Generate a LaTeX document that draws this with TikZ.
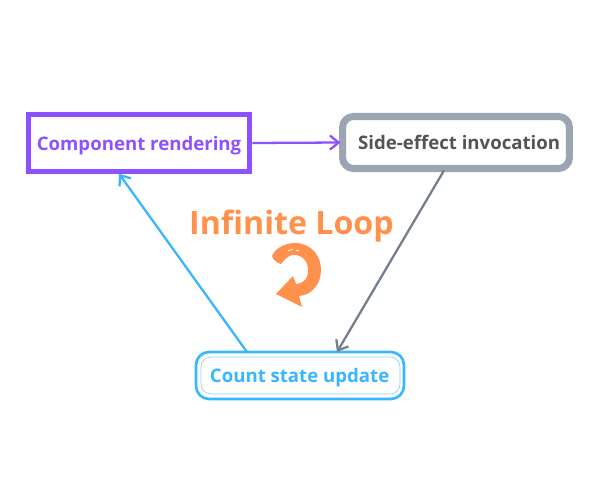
\documentclass[tikz,border=0pt]{standalone}
\usepackage{fontspec}
\setmainfont{Open Sans}
\usepackage{color}
\definecolor{purpleline}{HTML}{8C52FF}
\definecolor{greyline}{HTML}{9BA6B2}
\definecolor{greyarrow}{HTML}{737F8C}
\definecolor{greytext}{HTML}{545454}
\definecolor{blueline}{HTML}{38B6FF}
\definecolor{orangeloop}{HTML}{FF914D}
\usetikzlibrary{calc,arrows.meta}
\tikzset{
	box/.style={
		rectangle, outer sep=0pt, inner sep=0pt,
		text height=10.6pt, text depth=2.5pt,
		font=\fontsize{10.6}{13}\selectfont\bfseries
	},
}

\begin{document}
\begin{tikzpicture}[
		x=0.02cm, y=-0.02cm,
		>={Straight Barb[length=5pt,width=8pt]}, line width=1.3pt, ->
		]
		\useasboundingbox (0,0) rectangle (600,480);
		
		\node[box, draw=purpleline, line width=2.8pt, text=purpleline,
			minimum width=4.42cm, minimum height=1.15cm] (A) at (139,143) {Component rendering};
		\node[box, draw=greyline, line width=4pt, text=greytext, rounded corners=0.22cm,
			minimum width=4.54cm, minimum height=1.04cm] (B) at (456,142.5) {\hspace*{3.6pt}Side-effect invocation};
		\node[box, draw=blueline!60, line width=0.4pt, text=blueline, rounded corners=0.2cm,
			minimum width=3.98cm, minimum height=0.74cm] (C) at (300.5,375.5) {\hspace*{-1pt}Count state update};
		\node[box, draw=blueline, line width=1.5pt, rounded corners=0.26cm,
			minimum width=4.16cm, minimum height=0.94cm] (D) at (300,375.5) {};
		\node[font=\fontsize{18.3}{22}\selectfont\bfseries, text=orangeloop] (L) at (291.5,226) {Infinite Loop};
		
		\draw[purpleline] ($(A.east)+(3,0)$) -- ($(B.west)+(-2,0)$);
		\draw[greyarrow] ($(B.south)+(-12,2)$) -- ($(D.north)+(37,0)$);
		\draw[blueline] ($(D.north)+(-53,0)$) -- ($(A.south)+(-20,2)$);
		
		% hand drawn loop arrow
		\fill[orangeloop, draw=none] (272,256) .. controls (276,247) and (286,243) .. (296,243)
			.. controls (312,244) and (321,256) .. (321,270)
			.. controls (321,284) and (312,295) .. (299,296)
			-- (302,307) -- (276,294) -- (293,276) -- (296,284)
			.. controls (305,283) and (309,277) .. (308,268)
			.. controls (307,259) and (300,254) .. (292,255)
			.. controls (288,256) and (284,260) .. (281,264)
			.. controls (277,263) and (273,260) .. (272,256) -- cycle;
		\draw[white, line width=0.4pt, -] (288,251) -- (293,249) (296,250) -- (299,251) (304,262) -- (306,266);
	\end{tikzpicture}
\end{document}
